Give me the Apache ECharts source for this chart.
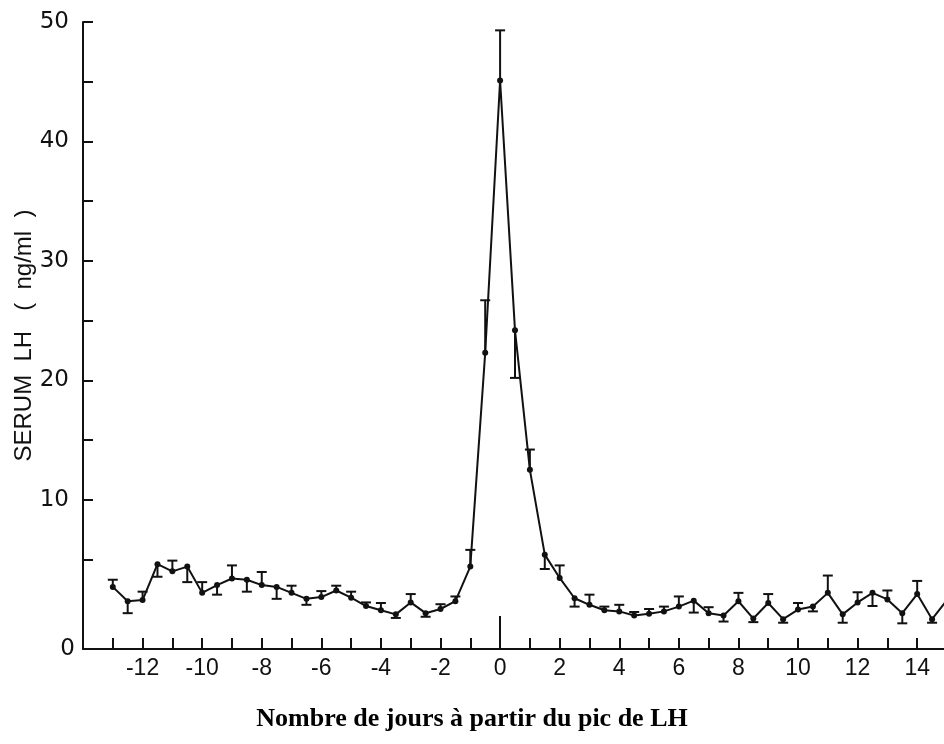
<!DOCTYPE html>
<html>
<head>
<meta charset="utf-8">
<script src="https://cdn.jsdelivr.net/npm/echarts@6/dist/echarts.min.js"></script>
<style>
html,body{margin:0;padding:0;background:#fff;}
#chart{width:944px;height:744px;}
</style>
</head>
<body>
<div id="chart"></div>
<script>
// Days from LH peak (half-day sampling)
const days = [-13,-12.5,-12,-11.5,-11,-10.5,-10,-9.5,-9,-8.5,-8,-7.5,-7,-6.5,-6,-5.5,-5,-4.5,-4,-3.5,-3,-2.5,-2,-1.5,-1,-0.5,
  0,0.5,1,1.5,2,2.5,3,3.5,4,4.5,5,5.5,6,6.5,7,7.5,8,8.5,9,9.5,10,10.5,11,11.5,12,12.5,13,13.5,14,14.5,15];
// Serum LH mean values (ng/ml)
const lh = [2.7,1.5,1.6,4.6,4.0,4.4,2.2,2.85,3.4,3.3,2.85,2.7,2.2,1.7,1.85,2.4,1.8,1.1,0.75,0.4,1.4,0.5,0.85,1.5,4.4,22.3,
  45.1,24.2,12.5,5.4,3.45,1.75,1.2,0.75,0.65,0.3,0.45,0.65,1.05,1.55,0.5,0.3,1.5,0.05,1.35,0.0,0.8,1.05,2.2,0.4,1.4,2.2,1.65,0.5,2.1,0.0,1.6];
// Error bar length (positive = drawn upward, negative = drawn downward)
const err = [0.6,-1.0,0.7,-1.05,0.9,-1.3,0.9,-0.8,1.1,-1.0,1.1,-1.0,0.6,-0.5,0.5,0.4,0.5,0.3,0.6,-0.3,0.7,-0.3,0.4,0.4,1.4,4.4,
  4.2,-4.0,1.7,-1.2,1.05,-0.7,0.85,0.3,0.55,0.3,0.4,0.4,0.85,-1.0,0.5,-0.5,0.7,-0.3,0.75,-0.3,0.55,-0.4,1.45,-0.7,0.85,-1.1,0.75,-0.85,1.1,-0.3,0];
// Axis ticks and labels
const xTicks = [-13,-12,-11,-10,-9,-8,-7,-6,-5,-4,-3,-2,-1,0,1,2,3,4,5,6,7,8,9,10,11,12,13,14];
const xLabels = [-12,-10,-8,-6,-4,-2,0,2,4,6,8,10,12,14];
const yTicks = [5,10,15,20,25,30,35,40,45,50];
const yLabels = [10,20,30,40,50];
const yAxisBottom = -2.5; // the axis line sits below zero in the original; labelled "0"
const yLabelText = '0';
const yName = 'SERUM  LH   (  ng/ml  )';
const xTitle = 'Nombre de jours à partir du pic de LH';

const lineData = days.map((d, i) => [d, lh[i]]);
const errData = days.map((d, i) => [d, lh[i], err[i]]).filter(r => r[2] !== 0);

const ink = '#111';
const chart = echarts.init(document.getElementById('chart'), null, {renderer: 'canvas'});
chart.setOption({
  animation: false,
  backgroundColor: '#fff',
  title: {
    text: xTitle,
    left: 'center',
    top: 701,
    textStyle: {fontFamily: 'Liberation Serif', fontWeight: 'bold', fontSize: 26, color: '#000'}
  },
  grid: {left: 83, right: 0, top: 22, bottom: 95, containLabel: false, outerBoundsMode: 'none'},
  xAxis: [{
    type: 'value', min: -14, max: 14.9,
    axisLine: {onZero: false, lineStyle: {color: ink, width: 2}},
    axisTick: {show: true, inside: true, length: 11, customValues: xTicks, lineStyle: {color: ink, width: 2}},
    axisLabel: {customValues: xLabels, margin: 8, fontFamily: 'Liberation Sans', fontSize: 23, color: ink},
    splitLine: {show: false}
  }, {
    type: 'value', min: -14, max: 14.9, position: 'bottom',
    axisLine: {show: false, onZero: false},
    axisTick: {show: true, inside: true, length: 33, customValues: [0], lineStyle: {color: ink, width: 2}},
    axisLabel: {show: false},
    splitLine: {show: false}
  }],
  yAxis: [{
    type: 'value', min: yAxisBottom, max: 50, position: 'left',
    name: yName, nameLocation: 'middle', nameGap: 47, nameMoveOverlap: false,
    nameTextStyle: {fontFamily: 'Liberation Sans', fontSize: 24, color: ink},
    axisLine: {onZero: false, lineStyle: {color: ink, width: 2}},
    axisTick: {show: true, inside: true, length: 10, customValues: yTicks, lineStyle: {color: ink, width: 2}},
    axisLabel: {customValues: yLabels, margin: 14, fontFamily: 'DejaVu Sans', fontSize: 23, color: ink},
    splitLine: {show: false}
  }, {
    type: 'value', min: yAxisBottom, max: 50, position: 'left', offset: 0,
    axisLine: {show: false, onZero: false},
    axisTick: {show: false},
    axisLabel: {customValues: [yAxisBottom], margin: 8, fontFamily: 'DejaVu Sans', fontSize: 23, color: ink,
      formatter: () => yLabelText},
    splitLine: {show: false}
  }],
  series: [{
    type: 'line',
    data: lineData,
    clip: true,
    symbol: 'circle',
    symbolSize: 6,
    itemStyle: {color: ink},
    lineStyle: {color: ink, width: 2},
    z: 3
  }, {
    type: 'custom',
    data: errData,
    clip: true,
    z: 2,
    renderItem: function (params, api) {
      const x = api.value(0), y = api.value(1), e = api.value(2);
      const p0 = api.coord([x, y]);
      const p1 = api.coord([x, y + e]);
      const st = {stroke: ink, lineWidth: 2};
      return {
        type: 'group',
        children: [
          {type: 'line', shape: {x1: p0[0], y1: p0[1], x2: p1[0], y2: p1[1]}, style: st},
          {type: 'line', shape: {x1: p1[0] - 5, y1: p1[1], x2: p1[0] + 5, y2: p1[1]}, style: st}
        ]
      };
    }
  }]
});
</script>
</body>
</html>
